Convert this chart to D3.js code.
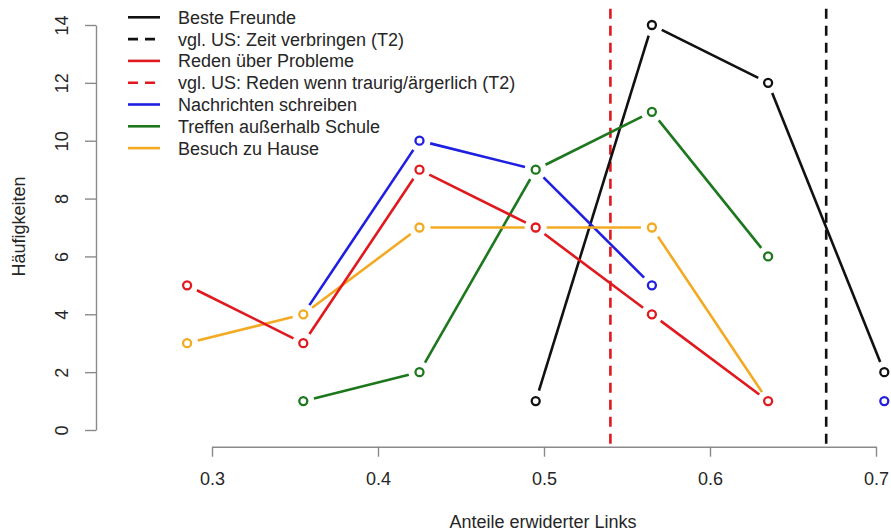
<!DOCTYPE html>
<html>
<head>
<meta charset="utf-8">
<script src="https://cdn.jsdelivr.net/npm/d3@7"></script>
<style>
  body { margin: 0; background: #fff; }
  svg text { font-family: "Liberation Sans", Arial, sans-serif; }
</style>
</head>
<body>
<svg id="chart" width="891" height="532"></svg>
<script>
/*
  Line chart: Häufigkeiten vs. Anteile erwiderter Links
*/

var xBins = [0.285, 0.355, 0.425, 0.495, 0.565, 0.635, 0.705];

// null = no value in that bin
var besteFreunde   = [null, null, null, 1, 14, 12, 2];
var redenProbleme  = [5, 3, 9, 7, 4, 1, null];
var nachrichten    = [null, 4, 10, 9, 5, null, 1];
var treffen        = [null, 1, 2, 9, 11, 6, null];
var besuch         = [3, 4, 7, 7, 7, 1, null];

var refZeit = 0.67,
    refReden = 0.54;

var xTicks = [0.3, 0.4, 0.5, 0.6, 0.7],
    yTicks = [0, 2, 4, 6, 8, 10, 12, 14];

var legendLabels = ["Beste Freunde", "vgl. US: Zeit verbringen (T2)", "Reden über Probleme",
  "vgl. US: Reden wenn traurig/ärgerlich (T2)", "Nachrichten schreiben",
  "Treffen außerhalb Schule", "Besuch zu Hause"];

var colors = {black: "#111111", red: "#e0191e", blue: "#1f1fe0", green: "#1d771d", orange: "#f2aa22"};

var legendColors = [colors.black, colors.black, colors.red, colors.red, colors.blue, colors.green, colors.orange],
    legendDashed = [false, true, false, true, false, false, false];

// drawing order: later series cover earlier points
var series = [
  {values: besteFreunde, color: colors.black},
  {values: nachrichten, color: colors.blue},
  {values: treffen, color: colors.green},
  {values: besuch, color: colors.orange},
  {values: redenProbleme, color: colors.red}
];

var svg = d3.select("#chart"),
    axisColor = "#8a8a8a",
    textColor = "#262626",
    fontSize = "18px",
    gap = 11;

var x = d3.scaleLinear().domain([0.3, 0.7]).range([212, 876]),
    y = d3.scaleLinear().domain([0, 14]).range([430, 25]);

var plotTop = y(14.56), plotBottom = 446.7;

//reference lines
[{v: refReden, c: colors.red}, {v: refZeit, c: colors.black}].forEach(function(r){
  svg.append("line")
    .attr("x1", x(r.v)).attr("x2", x(r.v))
    .attr("y1", plotTop).attr("y2", plotBottom)
    .style("stroke", r.c)
    .style("stroke-width", 2.6)
    .style("stroke-dasharray", "10,7");
});

//is a point covered by the same point of a series drawn later?
function covered(si, i, v){
  for(var j = si + 1; j < series.length; j++){
    if(series[j].values[i] === v) return true;
  }
  return false;
}

//series: segments with gaps around points, then open circles
series.forEach(function(s, si){
  var pts = [];
  s.values.forEach(function(v, i){
    if(v !== null) pts.push({i: i, v: v, px: x(xBins[i]), py: y(v)});
  });

  for(var k = 0; k < pts.length - 1; k++){
    var a = pts[k], b = pts[k + 1];
    if(b.i - a.i !== 1) continue;
    var dx = b.px - a.px, dy = b.py - a.py, len = Math.sqrt(dx * dx + dy * dy);
    if(len <= 2 * gap) continue;
    svg.append("line")
      .attr("x1", a.px + dx / len * gap).attr("y1", a.py + dy / len * gap)
      .attr("x2", b.px - dx / len * gap).attr("y2", b.py - dy / len * gap)
      .style("stroke", s.color)
      .style("stroke-width", 2.6);
  }

  svg.selectAll(null)
    .data(pts.filter(function(d){ return !covered(si, d.i, d.v); }))
    .enter().append("circle")
      .attr("cx", function(d){ return d.px; })
      .attr("cy", function(d){ return d.py; })
      .attr("r", 4)
      .style("fill", "none")
      .style("stroke", s.color)
      .style("stroke-width", 2.3);
});

//x axis
var xAxis = svg.append("g")
  .attr("transform", "translate(0," + plotBottom + ")")
  .call(d3.axisBottom(x).tickValues(xTicks).tickSize(10).tickSizeOuter(0).tickFormat(d3.format(".1f")));

//y axis
var yAxis = svg.append("g")
  .attr("transform", "translate(96,0)")
  .call(d3.axisLeft(y).tickValues(yTicks).tickSize(11).tickSizeOuter(0));

[xAxis, yAxis].forEach(function(g){
  g.select(".domain").style("stroke", axisColor).style("stroke-width", 1.4);
  g.selectAll(".tick line").style("stroke", axisColor).style("stroke-width", 1.4);
  g.selectAll("text")
    .style("font-size", fontSize)
    .style("fill", textColor)
    .style("font-family", "Liberation Sans, Arial, sans-serif");
});

xAxis.selectAll(".tick text")
  .attr("y", 38.3)
  .attr("dy", 0);

yAxis.selectAll(".tick text")
  .attr("x", 0)
  .attr("dy", 0)
  .attr("text-anchor", "middle")
  .attr("transform", "translate(-27.7,0) rotate(-90)");

//axis titles
svg.append("text")
  .attr("x", 543)
  .attr("y", 528)
  .style("text-anchor", "middle")
  .style("font-size", fontSize)
  .style("fill", textColor)
  .text("Anteile erwiderter Links");

svg.append("text")
  .attr("transform", "translate(25,226.5) rotate(-90)")
  .style("text-anchor", "middle")
  .style("font-size", fontSize)
  .style("fill", textColor)
  .text("Häufigkeiten");

//legend
var legend = svg.append("g");
legendLabels.forEach(function(label, i){
  var ly = 17.3 + i * 21.8;
  legend.append("line")
    .attr("x1", 128).attr("x2", 160)
    .attr("y1", ly).attr("y2", ly)
    .style("stroke", legendColors[i])
    .style("stroke-width", 2.6)
    .style("stroke-dasharray", legendDashed[i] ? "10,7" : null);
  legend.append("text")
    .attr("x", 178)
    .attr("y", ly)
    .attr("dy", "0.36em")
    .style("font-size", fontSize)
    .style("fill", textColor)
    .text(label);
});
</script>
</body>
</html>
